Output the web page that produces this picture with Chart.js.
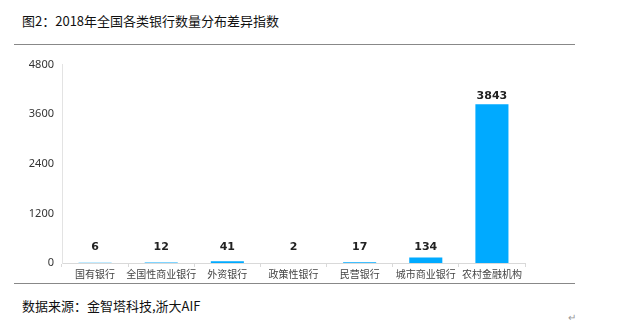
<!DOCTYPE html>
<html lang="zh">
<head>
  <meta charset="UTF-8" />
  <title>2018年全国各类银行数量分布差异指数</title>
  <script src="https://cdn.jsdelivr.net/npm/chart.js"></script>
  <style>
    body {
      margin: 0;
      width: 621px;
      height: 334px;
      background: #fff;
      font-family: "Noto Sans CJK SC", sans-serif;
      position: relative;
      overflow: hidden;
    }
    .title {
      position: absolute;
      left: 22px;
      top: 11px;
      font-size: 13px;
      color: #111;
    }
    .rule {
      position: absolute;
      left: 14px;
      width: 561px;
      height: 0;
      border-top: 1px solid #888;
    }
    .source {
      position: absolute;
      left: 22px;
      top: 296px;
      font-size: 13px;
      color: #111;
    }
    .mark {
      position: absolute;
      left: 568px;
      top: 309px;
      font-size: 10px;
      color: #999;
    }
    #wrap {
      position: absolute;
      left: 0;
      top: 50px;
      width: 560px;
      height: 233px;
    }
  </style>
</head>
<body>
  <div class="title">图2：2018年全国各类银行数量分布差异指数</div>
  <div class="rule" style="top:44px"></div>
  <div id="wrap"><canvas id="chart"></canvas></div>
  <div class="rule" style="top:283px"></div>
  <div class="source">数据来源：金智塔科技,浙大AIF</div>
  <div class="mark">↵</div>

  <script>
    const categories = ['国有银行', '全国性商业银行', '外资银行', '政策性银行', '民营银行', '城市商业银行', '农村金融机构'];
    const bankCounts = [6, 12, 41, 2, 17, 134, 3843];
    const yTicks = [0, 1200, 2400, 3600, 4800];

    // draws the bold number above each bar
    const valueLabels = {
      id: 'valueLabels',
      afterDatasetsDraw(chart) {
        const ctx = chart.ctx;
        const meta = chart.getDatasetMeta(0);
        ctx.save();
        ctx.font = 'bold 11px "DejaVu Sans", sans-serif';
        ctx.fillStyle = '#222';
        ctx.textAlign = 'center';
        ctx.textBaseline = 'bottom';
        meta.data.forEach((bar, i) => {
          const y = Math.min(bar.y, chart.scales.y.getPixelForValue(0) - 7);
          ctx.fillText(bankCounts[i], bar.x, y - 3);
        });
        ctx.restore();
      }
    };

    new Chart(document.getElementById('chart'), {
      type: 'bar',
      data: {
        labels: categories,
        datasets: [{
          data: bankCounts,
          backgroundColor: '#00aaff',
          barPercentage: 0.5,
          categoryPercentage: 1.0
        }]
      },
      options: {
        responsive: true,
        maintainAspectRatio: false,
        animation: false,
        layout: { padding: { top: 14, right: 35, left: 0, bottom: 0 } },
        plugins: { legend: { display: false }, tooltip: { enabled: false } },
        scales: {
          x: {
            grid: { offset: true, drawOnChartArea: false, tickLength: 4, color: '#d9d9d9' },
            border: { color: '#d9d9d9' },
            ticks: {
              color: '#444',
              font: { size: 10, family: '"Noto Sans CJK SC", sans-serif' },
              padding: 1,
              maxRotation: 0,
              autoSkip: false
            },
            afterFit(scale) { scale.height = 20; }
          },
          y: {
            min: 0,
            max: 4800,
            afterBuildTicks(scale) { scale.ticks = yTicks.map(v => ({ value: v })); },
            grid: { display: false, drawTicks: false },
            border: { color: '#e3e3e3' },
            ticks: {
              color: '#333',
              font: { size: 11, family: '"Noto Sans", sans-serif' },
              padding: 8,
              callback: v => String(v)
            },
            afterFit(scale) { scale.width = 62; }
          }
        }
      },
      plugins: [valueLabels]
    });
  </script>
</body>
</html>
